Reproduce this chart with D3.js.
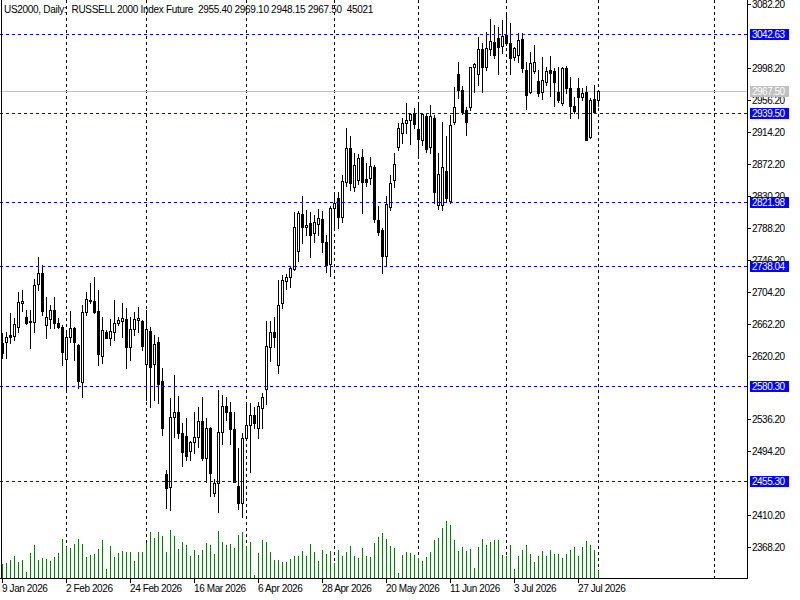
<!DOCTYPE html>
<html><head><meta charset="utf-8">
<script src="https://cdn.jsdelivr.net/npm/d3@7"></script>
<style>
body{margin:0;background:#fff;overflow:hidden}
svg{display:block}
text{font-family:"Liberation Sans",Arial,sans-serif;font-size:10px}
</style>
</head><body>
<svg id="chart" width="800" height="600"></svg>
<script>
const header = "US2000, Daily:  RUSSELL 2000 Index Future  2955.40 2969.10 2948.15 2967.50  45021";
const opens = [2636.3,2638.4,2647.2,2645.9,2658.1,2688.9,2670.5,2665.6,2663.9,2713.8,2728.3,2660.7,2667.8,2679.6,2662.6,2657.4,2615.3,2645.0,2656.0,2634.1,2585.0,2677.0,2692.3,2691.9,2678.7,2620.0,2650.8,2643.7,2651.5,2662.6,2666.0,2668.2,2631.4,2654.7,2666.4,2665.6,2608.7,2652.9,2608.7,2638.4,2586.8,2464.5,2447.0,2539.0,2545.6,2518.0,2514.5,2494.4,2506.2,2512.8,2533.8,2486.0,2524.7,2439.2,2452.3,2519.3,2553.9,2545.6,2523.3,2448.8,2426.8,2511.5,2529.0,2542.1,2525.4,2550.9,2575.8,2630.8,2650.8,2607.3,2688.9,2718.6,2723.8,2733.6,2757.2,2806.2,2788.7,2794.0,2780.9,2792.7,2799.3,2769.0,2740.1,2813.7,2826.9,2802.6,2847.9,2892.6,2841.3,2851.0,2881.5,2852.2,2853.2,2868.0,2798.3,2785.2,2751.5,2815.8,2851.0,2894.7,2912.2,2925.4,2929.7,2939.3,2917.5,2903.5,2935.0,2894.7,2933.0,2818.2,2818.2,2862.7,2823.7,2926.8,2990.2,2969.2,2942.9,2947.2,2999.0,2989.9,3022.7,2999.0,3022.7,3031.9,3037.1,3026.4,3041.5,3031.6,3012.1,3015.2,3036.2,2995.1,2967.0,2994.5,2981.0,2967.0,2979.8,2995.5,2994.5,2967.0,2951.5,2997.7,2971.4,2948.1,2971.4,2960.4,2967.0,2907.0,2957.0,2955.40];
const highs = [2649.8,2651.5,2676.5,2669.5,2704.1,2706.3,2680.1,2680.1,2720.4,2750.1,2739.2,2697.5,2686.6,2697.5,2669.1,2660.4,2650.2,2678.7,2657.4,2635.4,2686.6,2704.1,2715.2,2723.8,2706.3,2671.3,2653.8,2667.8,2693.2,2671.3,2688.9,2682.3,2671.3,2677.8,2684.4,2666.4,2680.1,2658.1,2647.2,2645.0,2603.4,2469.7,2564.0,2594.6,2567.0,2531.2,2538.5,2507.9,2545.6,2553.0,2565.1,2537.8,2526.8,2457.6,2574.9,2568.4,2566.1,2559.6,2546.4,2498.3,2518.4,2557.4,2557.4,2553.0,2559.6,2570.6,2666.0,2666.0,2671.3,2719.5,2725.7,2726.9,2738.3,2808.9,2809.8,2829.9,2811.5,2808.9,2804.9,2812.4,2810.2,2778.6,2816.7,2833.4,2834.7,2857.5,2918.9,2908.7,2886.0,2885.1,2891.3,2873.6,2881.5,2870.6,2816.7,2787.8,2829.9,2857.5,2886.0,2925.4,2931.9,2951.7,2939.3,2945.1,2949.5,2939.3,2939.3,2949.5,2936.9,2886.0,2926.8,2908.7,2936.9,2973.5,3005.6,2974.4,2947.2,2999.8,3005.1,3039.2,3030.6,3045.8,3062.1,3054.6,3051.6,3061.2,3070.0,3056.8,3025.3,3043.7,3044.1,3006.0,3019.5,3028.3,2995.5,3012.1,2999.8,3013.9,2998.1,2999.8,2999.8,3000.7,2986.7,2960.4,2984.6,2971.4,2974.4,2958.7,2975.7,2969.10];
const lows = [2617.0,2616.6,2637.1,2640.6,2651.5,2678.7,2662.3,2630.5,2650.8,2706.3,2673.5,2643.7,2656.0,2656.0,2656.0,2607.8,2575.8,2638.4,2614.4,2577.2,2566.1,2673.5,2688.9,2675.7,2607.8,2610.0,2642.9,2634.1,2640.6,2660.4,2645.0,2603.4,2614.4,2647.2,2651.5,2627.5,2561.8,2553.0,2561.8,2557.4,2515.8,2419.5,2417.2,2513.6,2512.3,2475.4,2483.0,2483.0,2492.3,2500.4,2483.0,2454.4,2436.0,2436.0,2415.0,2504.6,2535.5,2504.6,2454.0,2418.1,2408.4,2509.2,2467.4,2524.7,2511.5,2524.7,2556.1,2613.2,2631.4,2596.8,2683.1,2707.2,2710.7,2732.6,2744.9,2767.7,2778.6,2749.3,2769.8,2778.6,2756.7,2730.4,2725.2,2789.5,2787.4,2795.5,2843.0,2837.8,2836.9,2845.3,2808.0,2843.0,2845.6,2795.3,2778.6,2728.3,2739.2,2811.5,2842.1,2890.3,2899.1,2913.0,2898.2,2919.3,2880.1,2896.9,2888.1,2886.0,2821.1,2812.4,2811.5,2823.3,2821.1,2924.5,2958.4,2937.7,2910.0,2942.9,2967.0,2976.3,2967.0,2995.5,3015.2,3011.2,2989.9,3017.4,3028.3,2989.9,3008.6,3006.0,2992.8,2943.8,2964.9,2991.5,2961.4,2957.0,2976.3,2961.4,2948.0,2953.1,2950.1,2965.2,2932.6,2938.9,2932.6,2956.0,2903.5,2905.7,2940.3,2948.15];
const closes = [2623.2,2644.2,2645.0,2661.7,2690.2,2691.9,2663.4,2663.9,2712.9,2728.3,2679.1,2670.5,2679.6,2663.4,2657.4,2625.3,2644.2,2656.0,2638.4,2587.1,2677.0,2694.1,2693.6,2677.8,2621.8,2653.8,2643.7,2652.9,2662.6,2666.5,2669.1,2631.4,2655.1,2667.8,2669.1,2632.8,2654.7,2605.6,2636.0,2582.4,2525.4,2446.5,2539.0,2545.6,2518.0,2493.8,2488.6,2506.2,2512.8,2533.8,2486.0,2524.7,2466.1,2452.3,2519.3,2553.9,2545.6,2523.3,2454.4,2426.0,2511.5,2529.0,2542.1,2531.2,2553.9,2566.1,2632.5,2650.8,2644.2,2686.2,2719.5,2723.8,2734.9,2788.7,2807.1,2788.7,2791.4,2778.2,2795.3,2800.6,2769.8,2739.2,2813.7,2820.3,2802.6,2849.6,2892.6,2846.6,2870.2,2879.4,2848.7,2848.7,2868.9,2799.3,2783.0,2751.5,2819.0,2846.6,2872.0,2918.8,2925.4,2929.7,2937.2,2924.1,2904.4,2937.2,2891.3,2934.6,2834.7,2858.4,2867.6,2826.9,2922.9,2946.5,2969.2,2940.7,2927.6,2999.0,3003.4,3022.7,2999.0,3024.0,3034.0,3015.2,3026.1,3040.8,3031.6,3010.8,3024.0,3035.5,2997.7,2962.6,3005.1,3006.4,2965.6,2982.4,2994.5,2991.9,2980.1,2956.0,2997.7,2971.4,2948.1,2942.0,2960.4,2965.6,2903.5,2956.0,2940.7,2967.50];
const volumes = [90000,96500,115700,141500,102900,115700,38600,160800,212200,115700,128600,122200,109300,135000,160800,250800,199300,192900,218600,250800,218600,135000,147900,154300,186500,244300,57900,205800,135000,160800,173600,167200,167200,109300,167200,167200,225100,295800,257200,295800,270100,167200,308600,270100,186500,231500,212200,141500,180000,147900,180000,225100,212200,154300,302200,231500,212200,218600,192900,276500,295800,205800,231500,19300,160800,244300,231500,167200,115700,115700,102900,102900,122200,141500,141500,173600,141500,218600,167200,109300,180000,154300,173600,96500,180000,141500,167200,205800,141500,128600,192900,141500,135000,225100,263600,289400,250800,205800,192900,32200,147900,167200,160800,147900,128600,109300,135000,167200,244300,257200,321500,366500,340800,244300,173600,199300,173600,186500,64300,199300,250800,212200,231500,244300,244300,147900,141500,212200,57900,141500,180000,212200,154300,102900,141500,173600,141500,180000,154300,154300,128600,154300,180000,199300,141500,199300,237900,212200,180000,45021];
const dateLabels = ["9 Jan 2026","2 Feb 2026","24 Feb 2026","16 Mar 2026","6 Apr 2026","28 Apr 2026","20 May 2026","11 Jun 2026","3 Jul 2026","27 Jul 2026"];
const dateLabelBars = [0,16,32,48,64,80,96,112,128,144];
const gridBars = [16,36,61,83,104,126,149,178];
const priceTicks = [3082.2,2998.2,2956.2,2914.2,2872.2,2830.2,2788.2,2746.2,2704.2,2662.2,2620.2,2536.2,2494.2,2410.2,2368.2];
const levels = [3042.63,2939.50,2821.98,2738.04,2580.30,2455.30];
const lastPrice = 2967.50;

const svg = d3.select("#chart");
const W = 800, H = 600;
const plotRight = 747, plotBottom = 578;
const x = d3.scaleLinear().domain([0,1]).range([2,6]);
const y = d3.scaleLinear().domain([2368.2,3082.2]).range([547.3,4]);
const vy = d3.scaleLinear().domain([0,d3.max(volumes)]).range([plotBottom,plotBottom-57]);
const R = v => Math.round(v);

svg.append("rect").attr("width",W).attr("height",H).attr("fill","#fff");

// vertical grid
svg.append("g").selectAll("line").data(gridBars).join("line")
  .attr("x1",d=>R(x(d))+0.5).attr("x2",d=>R(x(d))+0.5)
  .attr("y1",0).attr("y2",plotBottom)
  .attr("stroke","#000").attr("stroke-width",1).attr("stroke-dasharray","3,3");

// current price line
svg.append("line").attr("x1",0).attr("x2",plotRight).attr("y1",R(y(lastPrice))+0.5).attr("y2",R(y(lastPrice))+0.5)
  .attr("stroke","#c0c0c0").attr("stroke-width",1);

// volumes
svg.append("g").selectAll("line").data(volumes).join("line")
  .attr("x1",(d,i)=>R(x(i))+0.5).attr("x2",(d,i)=>R(x(i))+0.5)
  .attr("y1",plotBottom).attr("y2",d=>R(vy(d)))
  .attr("stroke","#008000").attr("stroke-width",1);

// candles
const idx = d3.range(opens.length);
const cg = svg.append("g");
cg.selectAll("line").data(idx).join("line")
  .attr("x1",i=>R(x(i))+0.5).attr("x2",i=>R(x(i))+0.5)
  .attr("y1",i=>R(y(highs[i]))).attr("y2",i=>R(y(lows[i]))+1)
  .attr("stroke","#000").attr("stroke-width",1);
cg.selectAll("rect.bear").data(idx.filter(i=>closes[i]<opens[i])).join("rect").attr("class","bear")
  .attr("x",i=>R(x(i))-1).attr("width",3)
  .attr("y",i=>R(y(opens[i])))
  .attr("height",i=>Math.max(1,R(y(closes[i]))-R(y(opens[i]))+1))
  .attr("fill","#000");
cg.selectAll("rect.bull").data(idx.filter(i=>closes[i]>=opens[i])).join("rect").attr("class","bull")
  .attr("x",i=>R(x(i))-0.5).attr("width",2)
  .attr("y",i=>R(y(closes[i]))+0.5)
  .attr("height",i=>Math.max(0,R(y(opens[i]))-R(y(closes[i]))))
  .attr("fill","#fff").attr("stroke","#000").attr("stroke-width",1);

// level lines
svg.append("g").selectAll("line").data(levels).join("line")
  .attr("x1",0).attr("x2",plotRight)
  .attr("y1",d=>R(y(d))+0.5).attr("y2",d=>R(y(d))+0.5)
  .attr("stroke","#0000ff").attr("stroke-width",1).attr("stroke-dasharray","3,3");

// frame
svg.append("line").attr("x1",1.5).attr("x2",1.5).attr("y1",0).attr("y2",plotBottom).attr("stroke","#000");
svg.append("line").attr("x1",plotRight+0.5).attr("x2",plotRight+0.5).attr("y1",0).attr("y2",plotBottom+1).attr("stroke","#000");
svg.append("line").attr("x1",0).attr("x2",plotRight+1).attr("y1",plotBottom+0.5).attr("y2",plotBottom+0.5).attr("stroke","#000");

// price axis
const pa = svg.append("g").attr("letter-spacing","-0.5px");
pa.selectAll("line").data(priceTicks).join("line")
  .attr("x1",plotRight+1).attr("x2",plotRight+4)
  .attr("y1",d=>R(y(d))+0.5).attr("y2",d=>R(y(d))+0.5).attr("stroke","#000");
pa.selectAll("text").data(priceTicks).join("text")
  .attr("x",plotRight+5).attr("y",d=>R(y(d))+4).attr("fill","#000")
  .text(d=>d.toFixed(2));

// level labels
const lg = svg.append("g").attr("letter-spacing","-0.5px").selectAll("g").data(levels).join("g");
lg.append("rect").attr("x",plotRight+3).attr("y",d=>R(y(d))-5).attr("width",39).attr("height",11).attr("fill","#0000ff");
lg.append("text").attr("x",plotRight+5).attr("y",d=>R(y(d))+4).attr("fill","#fff").text(d=>d.toFixed(2));
const cp = svg.append("g").attr("letter-spacing","-0.5px");
cp.append("rect").attr("x",plotRight+3).attr("y",R(y(lastPrice))-5).attr("width",39).attr("height",11).attr("fill","#c0c0c0");
cp.append("text").attr("x",plotRight+5).attr("y",R(y(lastPrice))+4).attr("fill","#fff").text(lastPrice.toFixed(2));

// time axis
const ta = svg.append("g").attr("letter-spacing","-0.4px");
ta.selectAll("line").data(dateLabelBars).join("line")
  .attr("x1",d=>R(x(d))+0.5).attr("x2",d=>R(x(d))+0.5)
  .attr("y1",plotBottom+1).attr("y2",plotBottom+5).attr("stroke","#000");
ta.selectAll("text").data(dateLabels).join("text")
  .attr("x",(d,i)=>R(x(dateLabelBars[i]))).attr("y",592).attr("fill","#000")
  .text(d=>d);

// header
svg.append("text").attr("x",4).attr("y",13).attr("fill","#000").attr("letter-spacing","-0.3px")
  .style("white-space","pre").text(header);
</script>
</body></html>
